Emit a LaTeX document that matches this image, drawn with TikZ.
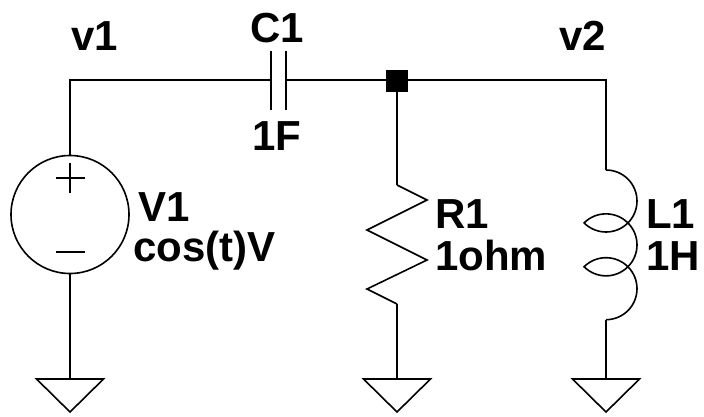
\documentclass[tikz,border=0pt]{standalone}
\usepackage{fontspec}
\setmainfont{Liberation Sans}
\usetikzlibrary{calc}
\begin{document}
\begin{tikzpicture}[x=1pt,y=1pt,
  wire/.style={line width=1.6pt, line join=miter},
  lbl/.style={anchor=base west, inner sep=0pt, font=\fontsize{42}{50}\selectfont\bfseries},
  gnd/.style={wire}]
\useasboundingbox (0,-416) rectangle (704,0);
% coordinates
\coordinate (tl) at (70,-80);
\coordinate (ca) at (271,-80);
\coordinate (cb) at (286,-80);
\coordinate (j) at (397,-80);
\coordinate (tr) at (606,-80);
\coordinate (vs) at (70,-214.5);
\coordinate (vtop) at (70,-155.5);
\coordinate (vbot) at (70,-273.5);
\coordinate (g1) at (70,-379);
\coordinate (rtop) at (397,-185);
\coordinate (rbot) at (397,-304);
\coordinate (g2) at (397,-379);
\coordinate (ltop) at (606,-170);
\coordinate (lbot) at (606,-319.6);
\coordinate (g3) at (606,-379);
% wires
\draw[wire] (ca) -- (tl) -- (vtop);
\draw[wire] (cb) -- (tr) -- (ltop);
\draw[wire] (j) -- (rtop);
\draw[wire] (vbot) -- (g1);
\draw[wire] (rbot) -- (g2);
\draw[wire] (lbot) -- (g3);
% capacitor
\draw[wire] (271,-51) -- (271,-110);
\draw[wire] (286,-51) -- (286,-110);
% source
\draw[wire] (vs) circle[radius=59];
\draw[wire] (56,-178) -- (85,-178) (70,-163) -- (70,-193);
\draw[wire] (56,-252) -- (85,-252);
% resistor
\draw[wire] (rtop) -- (427,-200) -- (367,-230) -- (427,-260) -- (367,-289) -- (rbot);
% inductor
\draw[wire] (ltop) arc[start angle=90, end angle=-135, radius=31]
  arc[start angle=135, end angle=-135, radius=31]
  arc[start angle=135, end angle=-90, radius=31];
% grounds
\foreach \g in {g1,g2,g3}{
  \draw[gnd] ($(\g)+(-33.5,0)$) -- ($(\g)+(33.5,0)$) -- ($(\g)+(0,-33)$) -- cycle;
}
% junction
\node[fill=black, minimum size=22pt, inner sep=0pt] (jn) at (397,-80.5) {};
% labels
\node[lbl] (lv1) at (71,-50) {v1};
\node[lbl] (lc1) at (250,-42) {C1};
\node[lbl] (lcv) at (252,-150) {1F};
\node[lbl] (lv2) at (559,-50) {v2};
\node[lbl] (lV1) at (138,-221) {V1};
\node[lbl] (lV1v) at (133,-261) {cos(t)V};
\node[lbl] (lR1) at (435,-228) {R1};
\node[lbl] (lR1v) at (435,-270) {1ohm};
\node[lbl] (lL1) at (646,-228) {L1};
\node[lbl] (lL1v) at (646,-270) {1H};
\end{tikzpicture}
\end{document}
